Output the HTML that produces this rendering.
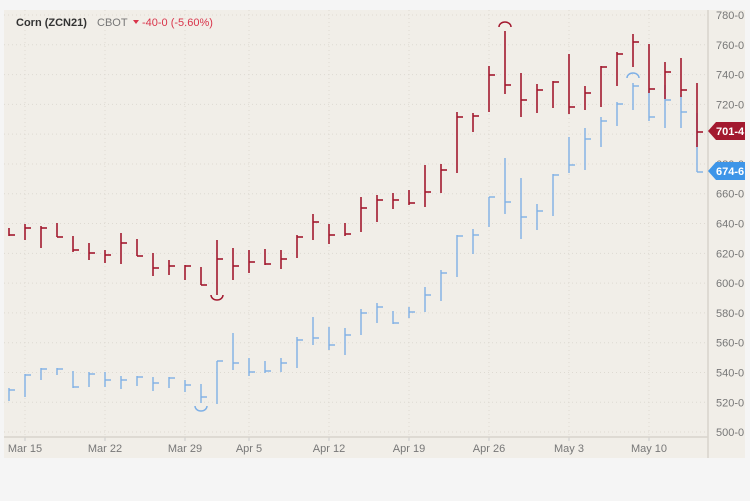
<!DOCTYPE html>
<html><head><meta charset="utf-8"><style>
body{margin:0;background:#f5f5f5;width:750px;height:501px;overflow:hidden;font-family:"Liberation Sans",sans-serif}
svg{position:absolute;left:0;top:0}
</style></head><body>
<svg id="c" width="750" height="501" xmlns="http://www.w3.org/2000/svg">
<rect x="4" y="10" width="741" height="448" fill="#f1eee8"/>
<g id="grid"></g>
<line x1="4" y1="437" x2="708" y2="437" stroke="#d8d4cc" stroke-width="1.5"/>
<line x1="708" y1="10" x2="708" y2="458" stroke="#d8d4cc" stroke-width="1.5"/>
<g id="bars"></g>
<g id="lbl" font-size="11" fill="#777"></g>
<text x="16" y="26" font-size="11" font-weight="bold" fill="#333">Corn (ZCN21)</text>
<text x="97" y="26" font-size="11" fill="#777">CBOT</text>
<polygon points="133,20 139,20 136,24" fill="#d9344a"/>
<text x="142" y="26" font-size="11" fill="#d9344a">-40-0 (-5.60%)</text>
<polygon points="708,131 716,122 745,122 745,140 716,140" fill="#a3192f"/>
<text x="716" y="135" font-size="11" font-weight="bold" fill="#fff">701-4</text>
<polygon points="708,171 716,162 745,162 745,180 716,180" fill="#3d95e8"/>
<text x="716" y="175" font-size="11" font-weight="bold" fill="#fff">674-6</text>
<path d="M211,295 a6,5 0 0 0 12,0" fill="none" stroke="#a3192f" stroke-width="1.5"/>
<path d="M499,27 a6,5 0 0 1 12,0" fill="none" stroke="#a3192f" stroke-width="1.5"/>
<path d="M195,406 a6,5 0 0 0 12,0" fill="none" stroke="#7fb0e6" stroke-width="1.5"/>
<path d="M627,78 a6,5 0 0 1 12,0" fill="none" stroke="#7fb0e6" stroke-width="1.5"/>
</svg>
<script>
var ns="http://www.w3.org/2000/svg";
function el(p,t,a,txt){var e=document.createElementNS(ns,t);for(var k in a)e.setAttribute(k,a[k]);if(txt)e.textContent=txt;p.appendChild(e);}
var g=document.getElementById('grid'),b=document.getElementById('bars'),l=document.getElementById('lbl');
for(var i=0;i<15;i++){var v=780-20*i,y=15+i*29.79;
 el(g,'line',{x1:4,x2:708,y1:y,y2:y,stroke:'#dedad2','stroke-dasharray':'1,3'});
 var s=v+'-0';el(l,'text',{x:716,y:y+4},s);}
var d=[[25,'Mar 15'],[105,'Mar 22'],[185,'Mar 29'],[249,'Apr 5'],[329,'Apr 12'],[409,'Apr 19'],[489,'Apr 26'],[569,'May 3'],[649,'May 10']];
d.forEach(function(q){el(g,'line',{x1:q[0],x2:q[0],y1:10,y2:437,stroke:'#dedad2','stroke-dasharray':'1,3'});
 el(g,'line',{x1:q[0],x2:q[0],y1:437,y2:441,stroke:'#ccc'});
 el(l,'text',{x:q[0],y:452,'text-anchor':'middle'},q[1]);});
var R=[[228,236,235],[224,240,228],[226,248,228],[223,237,237],[236,252,250],[243,260,253],[250,263,255],[233,264,243],[239,256,256],[253,276,268],[260,275,266],[265,280,266],[267,285,285],[240,295,259],[248,280,266],[250,273,262],[249,265,264],[250,269,259],[235,258,237],[214,240,222],[224,244,235],[223,236,234],[197,232,208],[195,222,200],[193,209,200],[190,205,203],[165,207,192],[164,193,170],[112,173,117],[113,132,116],[66,112,75],[31,94,85],[73,117,100],[84,113,90],[81,108,82],[54,114,107],[86,110,93],[66,107,67],[52,86,54],[34,67,42],[44,93,89],[62,99,72],[58,97,90],[83,147,132]];
var B=[[388,401,390],[374,397,375],[368,380,369],[368,375,369],[371,388,387],[372,387,374],[372,387,380],[376,389,380],[376,386,377],[377,391,383],[377,388,378],[380,392,385],[384,403,397],[361,404,361],[333,370,363],[358,376,372],[361,373,371],[358,372,363],[337,368,340],[317,345,338],[327,350,345],[328,355,335],[309,335,313],[303,323,307],[311,324,323],[307,318,312],[287,312,295],[270,301,273],[235,277,236],[229,254,235],[197,227,197],[158,214,202],[178,239,217],[204,230,211],[174,216,175],[137,173,165],[128,170,139],[117,147,121],[102,126,104],[83,110,86],[90,121,117],[85,128,100],[95,128,112],[113,172,172]];
function draw(A,c,w){A.forEach(function(r,i){var x=9+16*i;
 el(b,'line',{x1:x,x2:x,y1:r[0],y2:r[1],stroke:c,'stroke-width':w});
 el(b,'line',{x1:x,x2:x+6,y1:r[2],y2:r[2],stroke:c,'stroke-width':w});});}
draw(B,'#7fb0e6',1.4);draw(R,'#a3192f',1.6);
</script>
</body></html>
